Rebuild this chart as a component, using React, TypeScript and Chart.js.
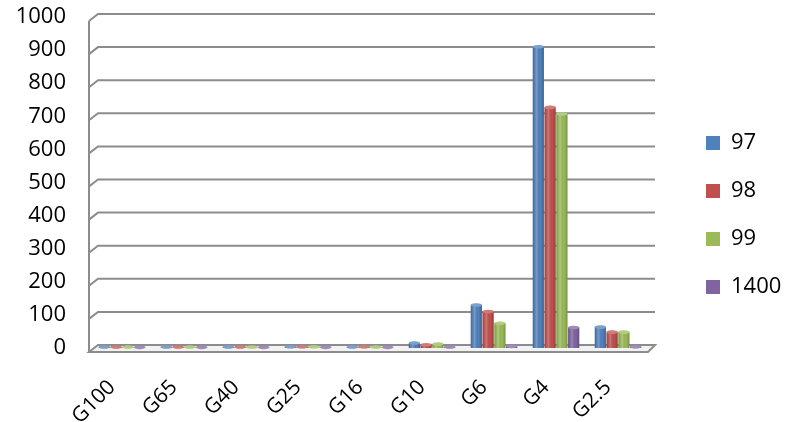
import React, { useEffect, useRef } from 'react';
import { Chart, registerables } from 'chart.js';
Chart.register(...registerables);

const categories = ['G100', 'G65', 'G40', 'G25', 'G16', 'G10', 'G6', 'G4', 'G2.5'];
const seriesNames = ['97', '98', '99', '1400'];
const values97 = [3, 3, 3, 4, 3, 15, 130, 910, 63];
const values98 = [3, 3, 3, 4, 4, 10, 110, 727, 48];
const values99 = [3, 3, 3, 4, 3, 12, 75, 707, 48];
const values1400 = [2, 2, 2, 2, 2, 3, 5, 62, 4];
const seriesColors = ['#4F81BD', '#C0504D', '#9BBB59', '#8064A2'];
const yMin = 0;
const yMax = 1000;
const yStep = 100;

const FONT = '"Open Sans", "DejaVu Sans", sans-serif';

const framePlugin = {
  id: 'frame3d',
  beforeInit(chart: any) {
    const lg = chart.legend;
    if (lg) {
      const fit = lg.fit;
      lg.fit = function () {
        fit.call(this);
        this.width = 138;
      };
    }
  },
  afterLayout(chart: any) {
    const lg = chart.legend;
    if (lg) {
      lg.left = 680;
      lg.right = 787;
      lg.top += 4;
      lg.bottom += 4;
    }
  },
  beforeDatasetsDraw(chart: any) {
    const ctx = chart.ctx;
    const { left, right } = chart.chartArea;
    const ys = chart.scales.y;
    const y0 = ys.getPixelForValue(0);
    ctx.save();
    // floor
    ctx.beginPath();
    ctx.moveTo(left - 2, y0 + 4);
    ctx.lineTo(left + 7, y0 - 3);
    ctx.lineTo(right + 6, y0 - 3);
    ctx.lineTo(right - 1, y0 + 4);
    ctx.closePath();
    ctx.fillStyle = '#f2f2f2';
    ctx.fill();
    ctx.strokeStyle = '#8c8c8c';
    ctx.lineWidth = 2;
    ctx.stroke();
    // gridlines
    for (let v = yMin + yStep; v <= yMax; v += yStep) {
      const y = ys.getPixelForValue(v);
      ctx.beginPath();
      ctx.moveTo(left - 2, y + 4);
      ctx.lineTo(left + 7, y - 3);
      ctx.lineTo(right + 6, y - 3);
      ctx.stroke();
    }
    // left wall
    ctx.beginPath();
    ctx.moveTo(left - 2, ys.getPixelForValue(yMax) + 4);
    ctx.lineTo(left - 2, y0 + 4);
    ctx.stroke();
    ctx.restore();
  },
  afterDatasetsDraw(chart: any) {
    const ctx = chart.ctx;
    ctx.save();
    chart.data.datasets.forEach((ds: any, i: number) => {
      const meta = chart.getDatasetMeta(i);
      meta.data.forEach((el: any) => {
        const { x, y, base, width } = el.getProps(['x', 'y', 'base', 'width'], true);
        const l = x - width / 2;
        const g = ctx.createLinearGradient(l, 0, l + width, 0);
        g.addColorStop(0, 'rgba(0,0,0,0.18)');
        g.addColorStop(0.35, 'rgba(255,255,255,0.22)');
        g.addColorStop(0.7, 'rgba(0,0,0,0)');
        g.addColorStop(1, 'rgba(0,0,0,0.22)');
        ctx.fillStyle = g;
        ctx.fillRect(l, y, width, base - y);
        // cylinder cap
        ctx.beginPath();
        ctx.ellipse(x, y, width / 2, 1.8, 0, 0, Math.PI * 2);
        ctx.fillStyle = ds.backgroundColor;
        ctx.fill();
        ctx.fillStyle = 'rgba(255,255,255,0.25)';
        ctx.fill();
      });
    });
    ctx.restore();
  },
};

export default function App() {
  const ref = useRef<HTMLCanvasElement | null>(null);
  useEffect(() => {
    document.body.style.margin = '0';
    const all = [values97, values98, values99, values1400];
    const chart = new Chart(ref.current as HTMLCanvasElement, {
      type: 'bar',
      data: {
        labels: categories,
        datasets: seriesNames.map((n, i) => ({
          label: n,
          data: all[i],
          backgroundColor: seriesColors[i],
          borderWidth: 0,
          barPercentage: 0.95,
          categoryPercentage: 0.76,
        })),
      },
      options: {
        animation: false,
        responsive: false,
        maintainAspectRatio: false,
        layout: { padding: { top: 0, left: 0, right: 0, bottom: 0 } },
        plugins: {
          tooltip: { enabled: false },
          legend: {
            position: 'right',
            labels: {
              boxWidth: 14,
              boxHeight: 14,
              padding: 26,
              color: '#000',
              font: { family: FONT, size: 22 },
            },
          },
        },
        scales: {
          x: {
            grid: { display: false, drawTicks: false },
            border: { display: false },
            ticks: {
              color: '#000',
              font: { family: FONT, size: 21 },
              minRotation: 45,
              maxRotation: 45,
              padding: 27,
              labelOffset: -10,
            },
            afterFit(s: any) {
              s.height = 74;
              s.paddingLeft = 0;
              s.paddingRight = 0;
            },
          },
          y: {
            min: yMin,
            max: yMax,
            grid: { display: false, drawTicks: false },
            border: { display: false },
            ticks: {
              stepSize: yStep,
              color: '#000',
              font: { family: FONT, size: 22 },
              padding: 25,
              callback: (v: any) => String(v),
            },
            afterFit(s: any) {
              s.width = 91;
              s.paddingTop = 17;
              s.paddingBottom = 0;
            },
          },
        },
      },
      plugins: [framePlugin],
    });
    return () => chart.destroy();
  }, []);
  return (
    <div style={{ width: 787, height: 422 }}>
      <canvas ref={ref} width={787} height={422} style={{ display: 'block' }} />
    </div>
  );
}
